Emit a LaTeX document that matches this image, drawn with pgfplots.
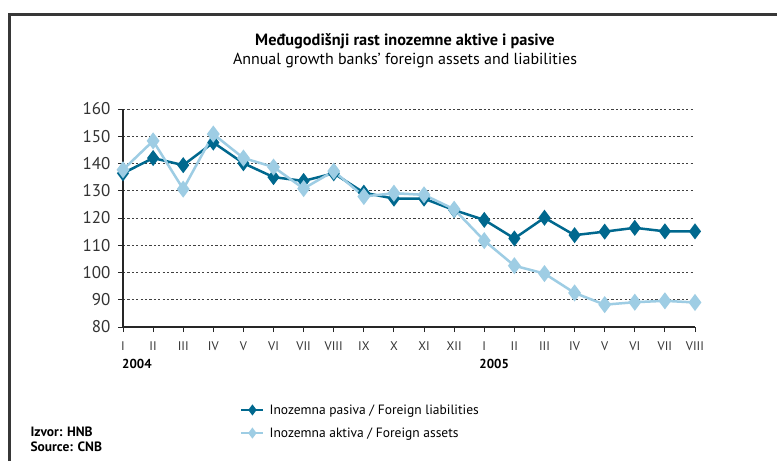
\documentclass[border=0pt]{standalone}
\usepackage{pgfplots}
\pgfplotsset{compat=1.18}
\usepackage{fontspec}
\setmainfont{PT Sans}
\definecolor{darkser}{RGB}{0,104,142}
\definecolor{lightser}{RGB}{158,205,228}
\definecolor{framec}{RGB}{55,55,55}
\begin{document}
\begin{tikzpicture}[x=1pt,y=1pt]
\useasboundingbox (0,0) rectangle (777,461);
\fill[white] (0,0) rectangle (777,461);
\draw[framec, line width=3pt] (9.5,0) -- (9.5,446.5) -- (777,446.5);
\node[font=\fontsize{16.3}{18}\selectfont\bfseries] at (405,420) {Međugodišnji rast inozemne aktive i pasive};
\node[font=\fontsize{16}{18}\selectfont] at (405,400) {Annual growth banks’ foreign assets and liabilities};
\node[font=\fontsize{13.5}{15}\selectfont\bfseries, anchor=west] at (27,29) {Izvor: HNB};
\node[font=\fontsize{13.5}{15}\selectfont\bfseries, anchor=west] at (27,14) {Source: CNB};
\begin{axis}[
  at={(123pt,134pt)}, anchor=south west,
  scale only axis, width=572pt, height=218pt,
  xmin=0, xmax=19, ymin=80, ymax=160,
  axis x line*=bottom, axis y line*=left,
  axis line style={line width=2.2pt, color=black!85, -},
  xtick={0,...,19},
  xticklabels={I,II,III,IV,V,VI,VII,VIII,IX,X,XI,XII,I,II,III,IV,V,VI,VII,VIII},
  ytick={80,90,...,160},
  tick align=outside,
  major tick length=5pt,
  tick style={line width=1pt, color=black!85},
  x tick label style={font=\fontsize{12.5}{14}\selectfont, color=black!80, yshift=-6pt},
  y tick label style={font=\fontsize{17}{19}\selectfont, color=black!80, xshift=-4pt},
  /pgf/number format/assume math mode=true,
  ymajorgrids,
  grid style={dash pattern=on 2.2pt off 2.2pt, line width=1pt, color=black!75},
  clip=false,
  legend style={draw=none, fill=none, at={(0.2045,-0.345)}, anchor=north west,
    font=\fontsize{13.5}{15}\selectfont, row sep=8pt, inner sep=0pt,
    nodes={inner xsep=5pt}},
  legend cell align=left,
  legend image code/.code={
    \draw[#1,mark=none] (0pt,0pt) -- (22pt,0pt);
    \draw[#1,only marks,mark size=3.5pt] plot coordinates {(11pt,0pt)};
  },
]
\addplot[color=darkser, line width=2.5pt, mark=diamond*, mark size=6pt,
  mark options={solid, fill=darkser}] coordinates {
(0,136.4) (1,142.0) (2,139.4) (3,147.7) (4,140.1) (5,135.0) (6,133.6) (7,136.4)
(8,129.3) (9,127.1) (10,127.1) (11,122.9) (12,119.3) (13,112.5) (14,120.1)
(15,113.7) (16,115.0) (17,116.4) (18,115.1) (19,115.1)};
\addlegendentry{Inozemna pasiva / Foreign liabilities}
\addplot[color=lightser, line width=2.5pt, mark=diamond*, mark size=6.5pt,
  mark options={solid, fill=lightser}] coordinates {
(0,137.7) (1,148.3) (2,130.6) (3,150.8) (4,142.0) (5,138.7) (6,130.8) (7,137.2)
(8,127.9) (9,129.1) (10,128.5) (11,123.2) (12,111.7) (13,102.5) (14,99.6)
(15,92.5) (16,88.2) (17,89.1) (18,89.6) (19,89.0)};
\addlegendentry{Inozemna aktiva / Foreign assets}
\node[anchor=north west, font=\fontsize{13}{15}\selectfont\bfseries, inner sep=0pt] at (axis cs:0,80) [xshift=-1pt, yshift=-32pt] {2004};
\node[anchor=north west, font=\fontsize{13}{15}\selectfont\bfseries, inner sep=0pt] at (axis cs:12,80) [xshift=-5pt, yshift=-32pt] {2005};
\end{axis}
\end{tikzpicture}
\end{document}
